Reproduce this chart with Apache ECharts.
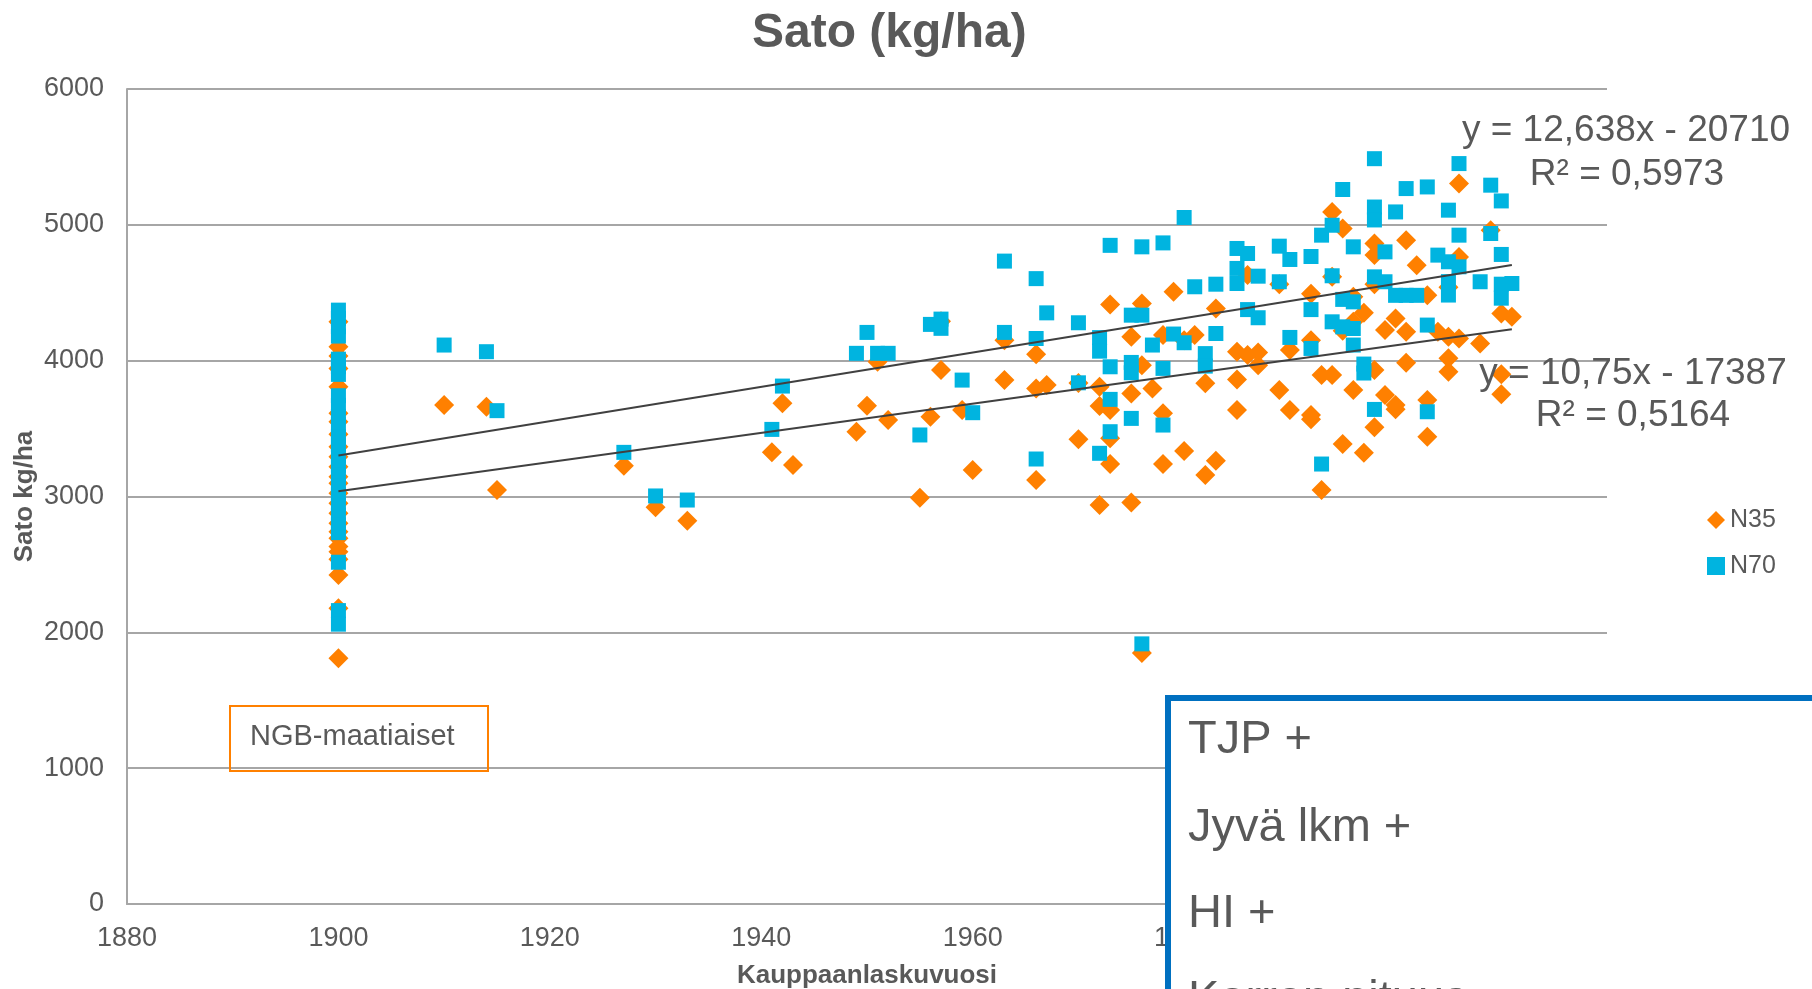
<!DOCTYPE html>
<html>
<head>
<meta charset="utf-8">
<script src="https://cdn.jsdelivr.net/npm/echarts@6/dist/echarts.min.js"></script>
<style>
html,body{margin:0;padding:0;background:#ffffff;}
#chart{width:1812px;height:989px;}
</style>
</head>
<body>
<div id="chart"></div>
<script>
// ---- Data ----
const chartTitle = 'Sato (kg/ha)';
const xAxisTitle = 'Kauppaanlaskuvuosi';
const yAxisTitle = 'Sato kg/ha';
const seriesNames = ['N35', 'N70'];
const xTicks = [1880, 2020, 20];      // min, max, step
const yTicks = [0, 6000, 1000];       // min, max, step

// N35: [year, yield kg/ha]
const n35 = [
  [1900,4286],[1900,4102],[1900,4034],[1900,3943],[1900,3808],[1900,3612],[1900,3551],[1900,3458],
  [1900,3366],[1900,3293],[1900,3219],[1900,3146],[1900,3097],[1900,3024],[1900,2950],[1900,2876],
  [1900,2803],[1900,2741],[1900,2692],[1900,2631],[1900,2594],[1900,2538],[1900,2423],[1900,2177],[1900,1810],
  [1910,3673],[1914,3661],[1915,3048],[1927,3227],[1930,2921],[1933,2822],
  [1941,3325],[1942,3686],[1943,3232],[1949,3477],[1950,3668],[1951,3992],[1952,3563],
  [1955,2991],[1956,3587],[1957,3931],[1957,4290],[1959,3636],[1960,3195],
  [1963,4151],[1963,3857],[1966,4048],[1966,3796],[1966,3122],[1967,3820],
  [1970,3835],[1970,3421],[1972,3808],[1972,3666],[1972,2937],
  [1973,4414],[1973,3636],[1973,3428],[1973,3239],
  [1975,4176],[1975,3759],[1975,2955],[1976,4421],[1976,3967],[1976,1847],[1977,3796],
  [1978,4189],[1978,3612],[1978,3239],[1979,4507],[1980,4150],[1980,3335],[1981,4189],
  [1982,3833],[1982,3158],[1983,4384],[1983,3264],[1985,4066],[1985,3862],[1985,3636],
  [1986,4630],[1986,4041],[1987,4060],[1987,3967],[1989,4563],[1989,3784],[1990,4078],[1990,3636],
  [1992,4493],[1992,4151],[1992,3600],[1992,3568],[1993,3894],[1993,3048],
  [1994,5095],[1994,4617],[1994,3894],[1995,4973],[1995,4220],[1995,3386],
  [1996,4470],[1996,4286],[1996,3784],[1997,4352],[1997,3322],
  [1998,4863],[1998,4777],[1998,4563],[1998,3931],[1998,3509],[1999,4225],[1999,3747],
  [2000,4311],[2000,3673],[2000,3643],[2001,4887],[2001,4213],[2001,3985],[2002,4703],
  [2003,4481],[2003,3710],[2003,3440],[2004,4213],[2005,4540],[2005,4176],[2005,4017],[2005,3918],
  [2006,5304],[2006,4764],[2006,4164],[2008,4127],[2009,4961],[2010,4348],[2010,3900],[2010,3752],[2011,4323]
];

// N70: [year, yield kg/ha]
const n70 = [
  [1900,4372],[1900,4311],[1900,4249],[1900,4181],[1900,4011],[1900,3955],[1900,3899],
  [1900,3742],[1900,3671],[1900,3590],[1900,3528],[1900,3440],[1900,3381],[1900,3296],[1900,3230],
  [1900,3158],[1900,3075],[1900,3012],[1900,2936],[1900,2862],[1900,2790],[1900,2734],
  [1900,2516],[1900,2160],[1900,2060],
  [1910,4115],[1914,4066],[1915,3632],[1927,3325],[1930,3004],[1933,2974],
  [1941,3494],[1942,3813],[1949,4054],[1950,4208],[1951,4054],[1952,4054],
  [1955,3453],[1956,4267],[1957,4306],[1957,4238],[1959,3857],[1960,3617],
  [1963,4733],[1963,4208],[1966,4604],[1966,4163],[1966,3276],[1967,4352],
  [1970,4279],[1970,3837],[1972,4170],[1972,4070],[1972,3318],
  [1973,4849],[1973,3955],[1973,3715],[1973,3477],
  [1975,4335],[1975,3987],[1975,3911],[1975,3575],[1976,4838],[1976,4335],[1976,1915],[1977,4115],
  [1978,4867],[1978,3943],[1978,3526],[1979,4196],[1980,5054],[1980,4132],[1981,4544],
  [1982,4052],[1982,3960],[1983,4563],[1983,4200],[1985,4826],[1985,4679],[1985,4568],
  [1986,4789],[1986,4376],[1987,4622],[1987,4316],[1989,4843],[1989,4581],[1990,4745],[1990,4171],
  [1992,4767],[1992,4376],[1992,4090],[1993,4924],[1993,3239],
  [1994,4997],[1994,4625],[1994,4286],[1995,5260],[1995,4451],[1995,4249],
  [1996,4838],[1996,4433],[1996,4237],[1996,4115],[1997,3975],[1997,3909],
  [1998,5487],[1998,5131],[1998,5036],[1998,4617],[1998,3641],[1999,4801],[1999,4581],
  [2000,5095],[2000,4481],[2001,5267],[2001,4481],[2002,4481],
  [2003,5279],[2003,4262],[2003,3624],[2004,4777],[2005,5108],[2005,4728],[2005,4582],[2005,4483],
  [2006,5451],[2006,4924],[2006,4691],[2008,4581],[2009,5292],[2009,4936],
  [2010,5176],[2010,4782],[2010,4563],[2010,4460],[2011,4568]
];

// Linear trendlines (end points as drawn)
const trendN35 = [[1900,3038],[2011,4231]];
const trendN70 = [[1900,3302],[2011,4705]];
const trendLabelN70 = ['y = 12,638x - 20710', 'R² = 0,5973'];
const trendLabelN35 = ['y = 10,75x - 17387', 'R² = 0,5164'];
const noteText = 'NGB-maatiaiset';
const boxLines = ['TJP +', 'Jyvä lkm +', 'HI +', 'Korren pituus'];

// ---- Chart ----
const FONT = '"Liberation Sans", Arial, sans-serif';
const GRAY = '#595959';
const GRID = '#a6a6a6';
const ORANGE = '#FF8000';
const BLUE = '#00B4E0';

const chart = echarts.init(document.getElementById('chart'), null, {renderer: 'canvas'});

function txt(text, x, y, size, opts) {
  opts = opts || {};
  return {
    type: 'text', x: x, y: y, z: opts.z || 50, silent: true,
    style: {
      text: text, fill: opts.color || GRAY,
      font: (opts.bold ? 'bold ' : '') + size + 'px ' + FONT,
      textAlign: opts.align || 'left', align: opts.align || 'left',
      textVerticalAlign: 'middle', verticalAlign: 'middle'
    }
  };
}

const graphics = [];
// trendline equations
graphics.push(txt(trendLabelN70[0], 1626, 131, 37, {align: 'center'}));
graphics.push(txt(trendLabelN70[1], 1627, 175, 37, {align: 'center'}));
graphics.push(txt(trendLabelN35[0], 1633, 374, 37, {align: 'center'}));
graphics.push(txt(trendLabelN35[1], 1633, 416, 37, {align: 'center'}));
// NGB note box
graphics.push({type: 'rect', z: 40, silent: true,
  shape: {x: 230, y: 706, width: 258, height: 65},
  style: {fill: 'rgba(0,0,0,0)', stroke: ORANGE, lineWidth: 2}});
graphics.push(txt(noteText, 250, 737, 29, {z: 41}));
// blue overlay box
graphics.push({type: 'rect', z: 100, silent: true,
  shape: {x: 1168, y: 698, width: 720, height: 400},
  style: {fill: '#ffffff', stroke: '#0070C0', lineWidth: 6}});
const boxY = [740, 828, 914, 1000];
boxLines.forEach(function (t, i) { graphics.push(txt(t, 1188, boxY[i], 47, {z: 101})); });

const plainNum = function (v) { return String(v); };

chart.setOption({
  backgroundColor: '#ffffff',
  animation: false,
  textStyle: {fontFamily: FONT},
  title: {
    text: chartTitle, left: 747, top: 5,
    textStyle: {fontSize: 48, fontWeight: 'bold', color: GRAY, fontFamily: FONT}
  },
  legend: {
    orient: 'vertical', left: 1702, top: 502,
    itemWidth: 18, itemHeight: 18, itemGap: 20,
    textStyle: {fontSize: 25, color: GRAY, fontFamily: FONT, lineHeight: 26},
    data: [{name: seriesNames[0], icon: 'diamond'}, {name: seriesNames[1], icon: 'rect'}]
  },
  grid: {left: 127, right: 205, top: 89, bottom: 85, containLabel: false, outerBoundsMode: 'none'},
  xAxis: {
    type: 'value', min: xTicks[0], max: xTicks[1], interval: xTicks[2],
    name: xAxisTitle, nameLocation: 'middle', nameGap: 59,
    nameTextStyle: {fontSize: 26, fontWeight: 'bold', color: GRAY, fontFamily: FONT},
    axisLine: {show: true, lineStyle: {color: GRID, width: 2}},
    axisTick: {show: false},
    splitLine: {show: false},
    axisLabel: {fontSize: 27, color: GRAY, margin: 21, fontFamily: FONT, formatter: plainNum}
  },
  yAxis: {
    type: 'value', min: yTicks[0], max: yTicks[1], interval: yTicks[2],
    name: yAxisTitle, nameLocation: 'middle', nameGap: 89, nameRotate: 90, nameMoveOverlap: false,
    nameTextStyle: {fontSize: 26, fontWeight: 'bold', color: GRAY, fontFamily: FONT},
    axisLine: {show: true, lineStyle: {color: GRID, width: 2}},
    axisTick: {show: false},
    splitLine: {show: true, lineStyle: {color: GRID, width: 2}},
    axisLabel: {fontSize: 27, color: GRAY, margin: 23, fontFamily: FONT, formatter: plainNum,
                padding: [10, 0, 0, 0]}
  },
  series: [
    {name: seriesNames[0], type: 'scatter', data: n35, symbol: 'diamond', symbolSize: 20,
     itemStyle: {color: ORANGE, opacity: 1}, z: 3},
    {name: seriesNames[1], type: 'scatter', data: n70, symbol: 'rect', symbolSize: 15,
     itemStyle: {color: BLUE, opacity: 1}, z: 4},
    {name: 'trend70', type: 'line', data: trendN70, symbol: 'none', silent: true,
     lineStyle: {color: '#404040', width: 2}, z: 5},
    {name: 'trend35', type: 'line', data: trendN35, symbol: 'none', silent: true,
     lineStyle: {color: '#404040', width: 2}, z: 5}
  ],
  graphic: graphics
});
</script>
</body>
</html>
